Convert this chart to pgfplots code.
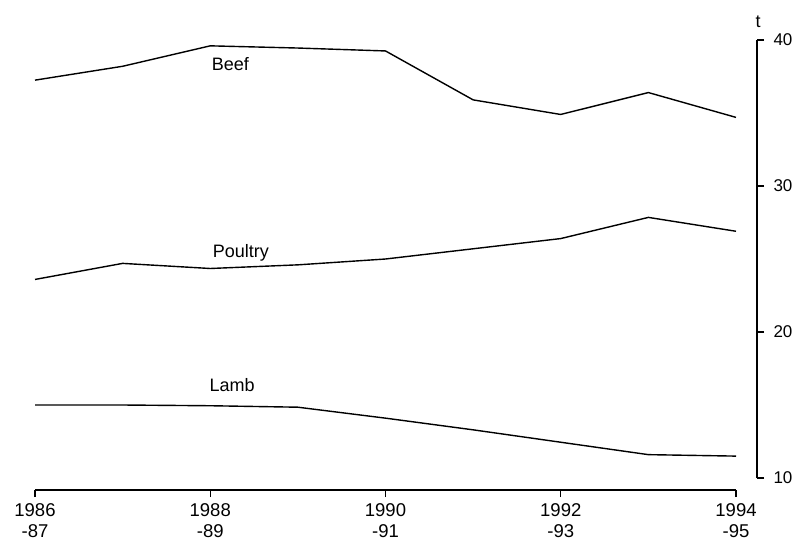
\documentclass[border=0pt]{standalone}
\usepackage{pgfplots}
\pgfplotsset{compat=1.18}
\usepackage{fontspec}
\setmainfont{Liberation Sans}
\usetikzlibrary{calc}
\begin{document}
\begin{tikzpicture}
\begin{axis}[
  scale only axis, width=701pt, height=438pt,
  xmin=1986, xmax=1994, ymin=10, ymax=40,
  axis x line=bottom, axis y line=right,
  axis x line shift=12pt, axis y line shift=21pt,
  axis line style={-, line width=1.2pt},
  tick align=outside, major tick length=7pt,
  tick style={line width=1.1pt, black},
  xtick={1986,1988,1990,1992,1994},
  xticklabels={{1986\\-87},{1988\\-89},{1990\\-91},{1992\\-93},{1994\\-95}},
  xticklabel style={align=center, font=\fontsize{18.5}{21}\selectfont, yshift=-3pt},
  ytick={10,20,30,40}, yticklabels={10,20,30,40},
  yticklabel style={font=\fontsize{17}{20}\selectfont, xshift=6pt},
  clip=false,
]
\addplot[black, line width=1.4pt] coordinates {
(1986,37.25) (1987,38.2) (1988,39.6) (1989,39.45) (1990,39.25) (1991,35.9) (1992,34.9) (1993,36.4) (1994,34.7)};
\addplot[black, line width=1.4pt] coordinates {
(1986,23.6) (1987,24.7) (1988,24.35) (1989,24.6) (1990,25.0) (1991,25.7) (1992,26.4) (1993,27.85) (1994,26.9)};
\addplot[black, line width=1.4pt] coordinates {
(1986,15.0) (1987,15.0) (1988,14.95) (1989,14.85) (1990,14.1) (1991,13.3) (1992,12.45) (1993,11.6) (1994,11.5)};
\node[anchor=base, font=\fontsize{18}{21}\selectfont] at (axis cs:1988.23,37.9) {Beef};
\node[anchor=base, font=\fontsize{18}{21}\selectfont] at (axis cs:1988.35,25.07) {Poultry};
\node[anchor=base, font=\fontsize{18}{21}\selectfont] at (axis cs:1988.25,15.9) {Lamb};
\node[anchor=base, xshift=22pt, yshift=13pt, font=\fontsize{18}{21}\selectfont] at (rel axis cs:1,1) {t};
\end{axis}
\pgfresetboundingbox
\path ($(current axis.south west)+(-35pt,-66pt)$) rectangle ($(current axis.north east)+(67pt,40pt)$);
\end{tikzpicture}
\end{document}
